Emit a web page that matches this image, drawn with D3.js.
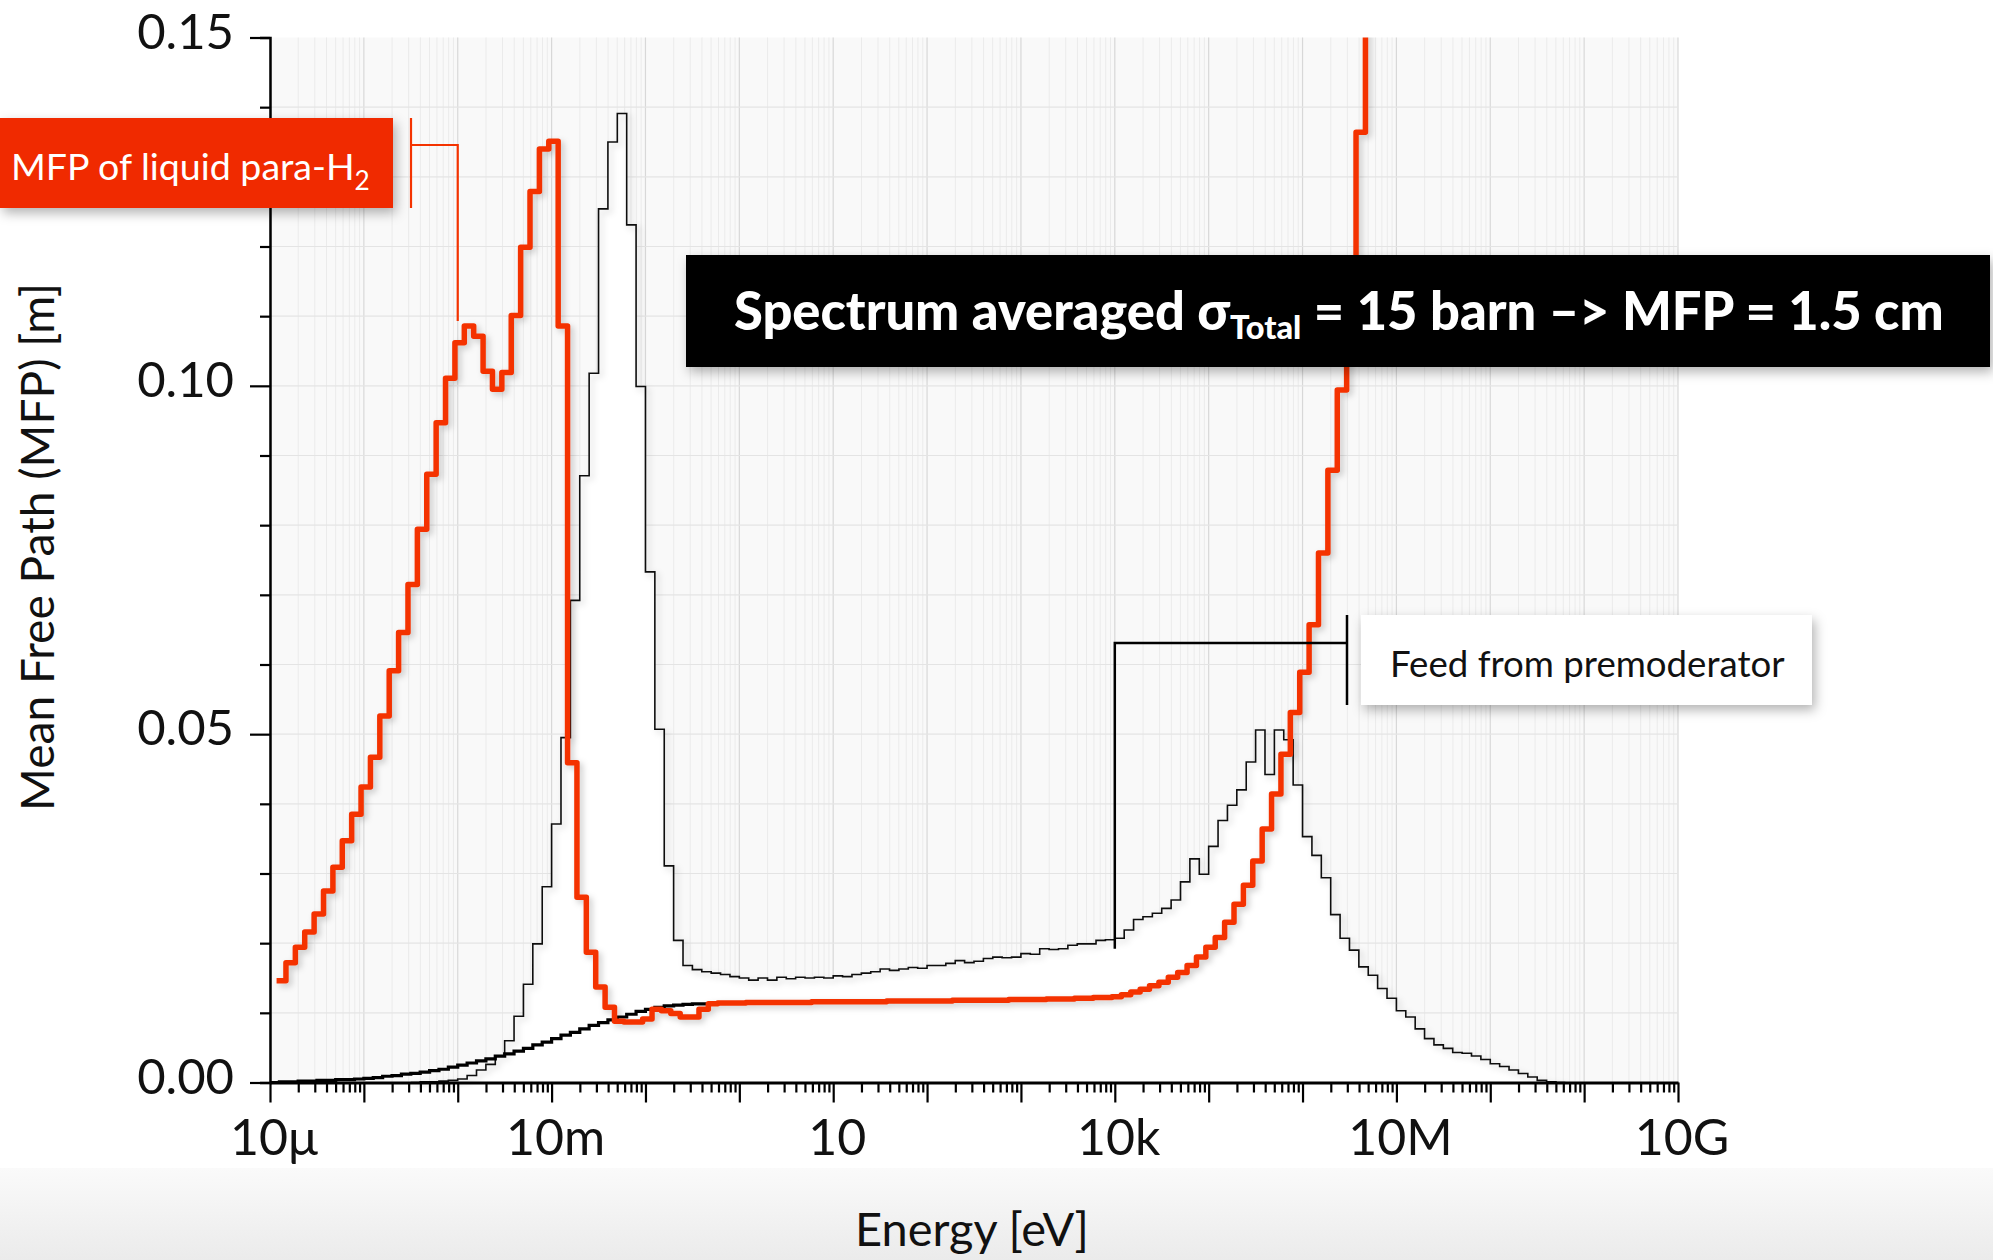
<!DOCTYPE html>
<html><head><meta charset="utf-8">
<script src="https://cdn.jsdelivr.net/npm/d3@7"></script>
<style>
html,body{margin:0;padding:0;background:#fff;}
svg{display:block;}
text{font-family:Lato,"Noto Sans",sans-serif;}
</style></head><body>
<svg id="chart" width="1993" height="1260"></svg>
<script>
// ---------------- data ----------------
const binWidthDecades = 0.1;            // histogram bins: 10 per decade of energy

// Mean free path of liquid para-H2 [m], bins starting at log10(E/eV) = mfpStartLog
const mfpStartLog = -4.93;
const mfpParaH2 = [
 0.0146,0.0172,0.0194,0.0216,0.0242,0.0275,0.0309,0.0347,0.0385,0.0424,
 0.0467,0.0526,0.0591,0.0646,0.0715,0.0794,0.0873,0.0947,0.1011,0.1062,
 0.1086,0.1071,0.1021,0.0995,0.1019,0.1101,0.1199,0.1279,0.1340,0.1351,
 0.1086,0.0459,0.0266,0.0187,0.0137,0.0108,0.0088,0.0087,0.0087,0.0091,
 0.0105,0.0103,0.0099,0.0094,0.0094,0.0105,0.0113,0.0114,0.0114,0.0114,
 0.0115,0.0115,0.0115,0.0115,0.0115,0.0115,0.0115,0.0116,0.0116,0.0116,
 0.0116,0.0116,0.0116,0.0116,0.0116,0.0117,0.0117,0.0117,0.0117,0.0117,
 0.0117,0.0117,0.0118,0.0118,0.0118,0.0118,0.0118,0.0118,0.0119,0.0119,
 0.0119,0.0119,0.0120,0.0120,0.0120,0.0121,0.0121,0.0122,0.0122,0.0123,
 0.0126,0.0130,0.0134,0.0139,0.0144,0.0151,0.0158,0.0168,0.0180,0.0194,
 0.0208,0.0230,0.0256,0.0283,0.0318,0.0364,0.0414,0.0471,0.0531,0.0589,
 0.0657,0.0760,0.0879,0.0994,0.1120,0.1364,0.2000
];

// Neutron spectrum feeding the moderator (arbitrary units on the same axis)
const spectrumStartLog = -3.5;
const spectrumValues = [
 0.0000,0.0001,0.0001,0.0002,0.0003,0.0005,0.0010,0.0018,0.0026,0.0038,
 0.0060,0.0095,0.0141,0.0199,0.0281,0.0371,0.0495,0.0692,0.0871,0.1018,
 0.1254,0.1350,0.1391,0.1231,0.0999,0.0733,0.0507,0.0311,0.0204,0.0168,
 0.0162,0.0159,0.0157,0.0155,0.0152,0.0150,0.0147,0.0150,0.0147,0.0151,
 0.0149,0.0151,0.0150,0.0151,0.0150,0.0153,0.0152,0.0155,0.0157,0.0159,
 0.0163,0.0161,0.0163,0.0165,0.0164,0.0168,0.0168,0.0171,0.0175,0.0172,
 0.0174,0.0178,0.0180,0.0179,0.0180,0.0185,0.0184,0.0192,0.0191,0.0192,
 0.0197,0.0199,0.0199,0.0204,0.0205,0.0207,0.0219,0.0234,0.0238,0.0243,
 0.0250,0.0262,0.0288,0.0321,0.0299,0.0339,0.0376,0.0398,0.0420,0.0460,
 0.0506,0.0442,0.0506,0.0492,0.0427,0.0353,0.0326,0.0294,0.0241,0.0207,
 0.0190,0.0166,0.0154,0.0135,0.0121,0.0103,0.0094,0.0077,0.0063,0.0054,
 0.0049,0.0043,0.0042,0.0038,0.0033,0.0027,0.0023,0.0018,0.0013,0.0008,
 0.0003,0.0001,0.0000
];

// Low-energy black curve
const lowStartLog = -5.0;
const lowCurveValues = [
 0.0000,0.0001,0.0001,0.0002,0.0002,0.0003,0.0003,0.0004,0.0004,0.0005,
 0.0006,0.0007,0.0009,0.0010,0.0012,0.0013,0.0015,0.0017,0.0019,0.0022,
 0.0025,0.0028,0.0031,0.0034,0.0038,0.0041,0.0045,0.0049,0.0054,0.0058,
 0.0063,0.0068,0.0072,0.0077,0.0082,0.0086,0.0090,0.0094,0.0098,0.0102,
 0.0105,0.0108,0.0110,0.0111,0.0112,0.0113,0.0113
];

const xTickLabelValues = [1e-5, 1e-2, 1e1, 1e4, 1e7, 1e10];
const xTickLabels = ["10μ", "10m", "10", "10k", "10M", "10G"];
const yMajorTicks = [0, 0.05, 0.10, 0.15];
const yTickLabels = ["0.00", "0.05", "0.10", "0.15"];
const xTitle = "Energy [eV]";
const yTitle = "Mean Free Path (MFP) [m]";
const paraLabel = "MFP of liquid para-H";
const feedLabel = "Feed from premoderator";
const paraPointer = [1e-3, 0.1093];
const feedPointer = [1e4, 0.0192];

// ---------------- layout ----------------
const svg = d3.select("#chart");
const L = 270, R = 1678, T = 37.5, B = 1082.5;
const x = d3.scaleLog().domain([1e-5, 1e10]).range([L, R]);
const y = d3.scaleLinear().domain([0, 0.15]).range([B, T]);

const defs = svg.append("defs");
const sh = defs.append("filter").attr("id","shadow").attr("x","-20%").attr("y","-20%").attr("width","140%").attr("height","160%");
sh.append("feDropShadow").attr("dx",3).attr("dy",5).attr("stdDeviation",6).attr("flood-color","#000").attr("flood-opacity",0.3);
const lsh = defs.append("filter").attr("id","lshadow").attr("x","-5%").attr("y","-5%").attr("width","110%").attr("height","110%");
lsh.append("feDropShadow").attr("dx",3).attr("dy",3).attr("stdDeviation",3).attr("flood-color","#000").attr("flood-opacity",0.2);
const grad = defs.append("linearGradient").attr("id","floor").attr("x1",0).attr("x2",0).attr("y1",0).attr("y2",1);
grad.append("stop").attr("offset","0").attr("stop-color","#fafafa");
grad.append("stop").attr("offset","1").attr("stop-color","#ebebeb");
defs.append("clipPath").attr("id","plotclip").append("rect").attr("x",L-5).attr("y",T).attr("width",R-L+10).attr("height",B-T+5);

// floor gradient band
svg.append("rect").attr("x",0).attr("y",1168).attr("width",1993).attr("height",92).attr("fill","url(#floor)");

// plot background + grid
svg.append("rect").attr("x",L).attr("y",T).attr("width",R-L).attr("height",B-T).attr("fill","#f9f9f9");
const minorX = [];
for (let d = -5; d < 10; d++) for (let m = 2; m <= 9; m++) minorX.push(m * Math.pow(10, d));
const decadesX = d3.range(-5, 11).map(d => Math.pow(10, d));
const grid = svg.append("g");
grid.selectAll(".gm").data(minorX).join("line")
  .attr("x1", d => x(d)).attr("x2", d => x(d)).attr("y1", T).attr("y2", B)
  .attr("stroke", "#ebebeb").attr("stroke-width", 1);
grid.selectAll(".gd").data(decadesX).join("line")
  .attr("x1", d => x(d)).attr("x2", d => x(d)).attr("y1", T).attr("y2", B)
  .attr("stroke", "#d8d8d8").attr("stroke-width", 1.2);
const yGrid = d3.range(1, 15).map(i => i / 100);
grid.selectAll(".gy").data(yGrid).join("line")
  .attr("x1", L).attr("x2", R).attr("y1", d => y(d)).attr("y2", d => y(d))
  .attr("stroke", "#e4e4e4").attr("stroke-width", 1.2);

// step helpers
function stepPoints(startLog, vals) {
  const pts = vals.map((v, i) => [Math.pow(10, startLog + i * binWidthDecades), v]);
  pts.push([Math.pow(10, startLog + vals.length * binWidthDecades), vals[vals.length - 1]]);
  return pts;
}
const stepLine = d3.line().x(d => x(d[0])).y(d => y(d[1])).curve(d3.curveStepAfter);
const stepArea = d3.area().x(d => x(d[0])).y0(y(0)).y1(d => y(d[1])).curve(d3.curveStepAfter);

const plot = svg.append("g").attr("clip-path", "url(#plotclip)");
const specPts = stepPoints(spectrumStartLog, spectrumValues);
plot.append("path").attr("d", stepArea(specPts)).attr("fill", "#ffffff");
plot.append("path").attr("d", stepLine(specPts)).attr("fill", "none")
  .attr("stroke", "#111").attr("stroke-width", 1.6).attr("filter", "url(#lshadow)");
plot.append("path").attr("d", stepLine(stepPoints(lowStartLog, lowCurveValues))).attr("fill", "none")
  .attr("stroke", "#000").attr("stroke-width", 3.2);
plot.append("path").attr("d", stepLine(stepPoints(mfpStartLog, mfpParaH2))).attr("fill", "none")
  .attr("stroke", "#f43300").attr("stroke-width", 5.5).attr("stroke-linejoin", "round")
  .attr("filter", "url(#lshadow)");

// axes
const yAxis = d3.axisLeft(y).tickValues(d3.range(0, 16).map(i => i / 100)).tickFormat("").tickSizeOuter(0)
  .tickSize(10);
const yg = svg.append("g").attr("transform", `translate(${L},0)`).call(yAxis);
yg.select(".domain").attr("stroke", "#000").attr("stroke-width", 2.5);
yg.selectAll(".tick line").attr("stroke", "#000").attr("stroke-width", 2.2)
  .attr("x2", d => yMajorTicks.some(v => Math.abs(v - d) < 1e-9) ? -20 : -10);

const xAxis = d3.axisBottom(x).tickValues(decadesX.concat(minorX)).tickFormat("").tickSizeOuter(0);
const xg = svg.append("g").attr("transform", `translate(0,${B})`).call(xAxis);
xg.select(".domain").attr("stroke", "#000").attr("stroke-width", 3.2);
xg.selectAll(".tick line").attr("stroke", "#000").attr("stroke-width", 2.2)
  .attr("y2", d => decadesX.includes(d) ? 20 : 10);

// tick labels
svg.selectAll(".yl").data(yMajorTicks).join("text")
  .attr("x", 234).attr("y", d => y(d) + 11).attr("text-anchor", "end")
  .attr("font-size", 49).attr("fill", "#111").text((d, i) => yTickLabels[i]);
svg.selectAll(".xl").data(xTickLabelValues).join("text")
  .attr("x", d => x(d) + 4).attr("y", 1155).attr("text-anchor", "middle")
  .attr("font-size", 50).attr("fill", "#111").text((d, i) => xTickLabels[i]);

function fit(sel, w) {
  const cur = sel.node().getBBox().width;
  const fs = parseFloat(sel.attr("font-size"));
  sel.attr("font-size", fs * w / cur);
}

// axis titles
const yt = svg.append("text").attr("transform", "translate(54,547) rotate(-90)")
  .attr("text-anchor", "middle").attr("font-size", 48).attr("fill", "#111").text(yTitle);
fit(yt, 528);
const xt = svg.append("text").attr("x", 972).attr("y", 1246).attr("text-anchor", "middle")
  .attr("font-size", 48).attr("fill", "#111").text(xTitle);
fit(xt, 234);

// para-H2 annotation
svg.append("rect").attr("x", 0).attr("y", 118).attr("width", 393).attr("height", 90)
  .attr("fill", "#f02c00").attr("filter", "url(#shadow)");
const pt = svg.append("text").attr("x", 11).attr("y", 180).attr("font-size", 40).attr("fill", "#fff");
pt.append("tspan").text(paraLabel);
pt.append("tspan").attr("dy", 10).attr("font-size", "0.7em").text("2");
fit(pt, 359);
const px = x(paraPointer[0]);
svg.append("path").attr("fill", "none").attr("stroke", "#f43300").attr("stroke-width", 2.2)
  .attr("d", `M411,118V208M411,145H${px}V${y(paraPointer[1])}`);

// spectrum averaged box
svg.append("rect").attr("x", 686).attr("y", 255).attr("width", 1304).attr("height", 112)
  .attr("fill", "#000").attr("filter", "url(#shadow)");
const st = svg.append("text").attr("x", 734).attr("y", 330).attr("font-size", 50)
  .attr("font-weight", 900).attr("fill", "#fff");
st.append("tspan").text("Spectrum averaged σ");
st.append("tspan").attr("dy", 9).attr("font-size", "0.62em").text("Total");
st.append("tspan").attr("dy", -9).text(" = 15 barn –> MFP = 1.5 cm");
fit(st, 1210);

// feed annotation
svg.append("rect").attr("x", 1361).attr("y", 615).attr("width", 451).attr("height", 90)
  .attr("fill", "#fff").attr("filter", "url(#shadow)");
const ft = svg.append("text").attr("x", 1390).attr("y", 677).attr("font-size", 40).attr("fill", "#111").text(feedLabel);
fit(ft, 395);
const fx = x(feedPointer[0]);
svg.append("path").attr("fill", "none").attr("stroke", "#000").attr("stroke-width", 2.5)
  .attr("d", `M1347,615V705M1347,643H${fx}V${y(feedPointer[1])}`);
</script>
</body></html>
